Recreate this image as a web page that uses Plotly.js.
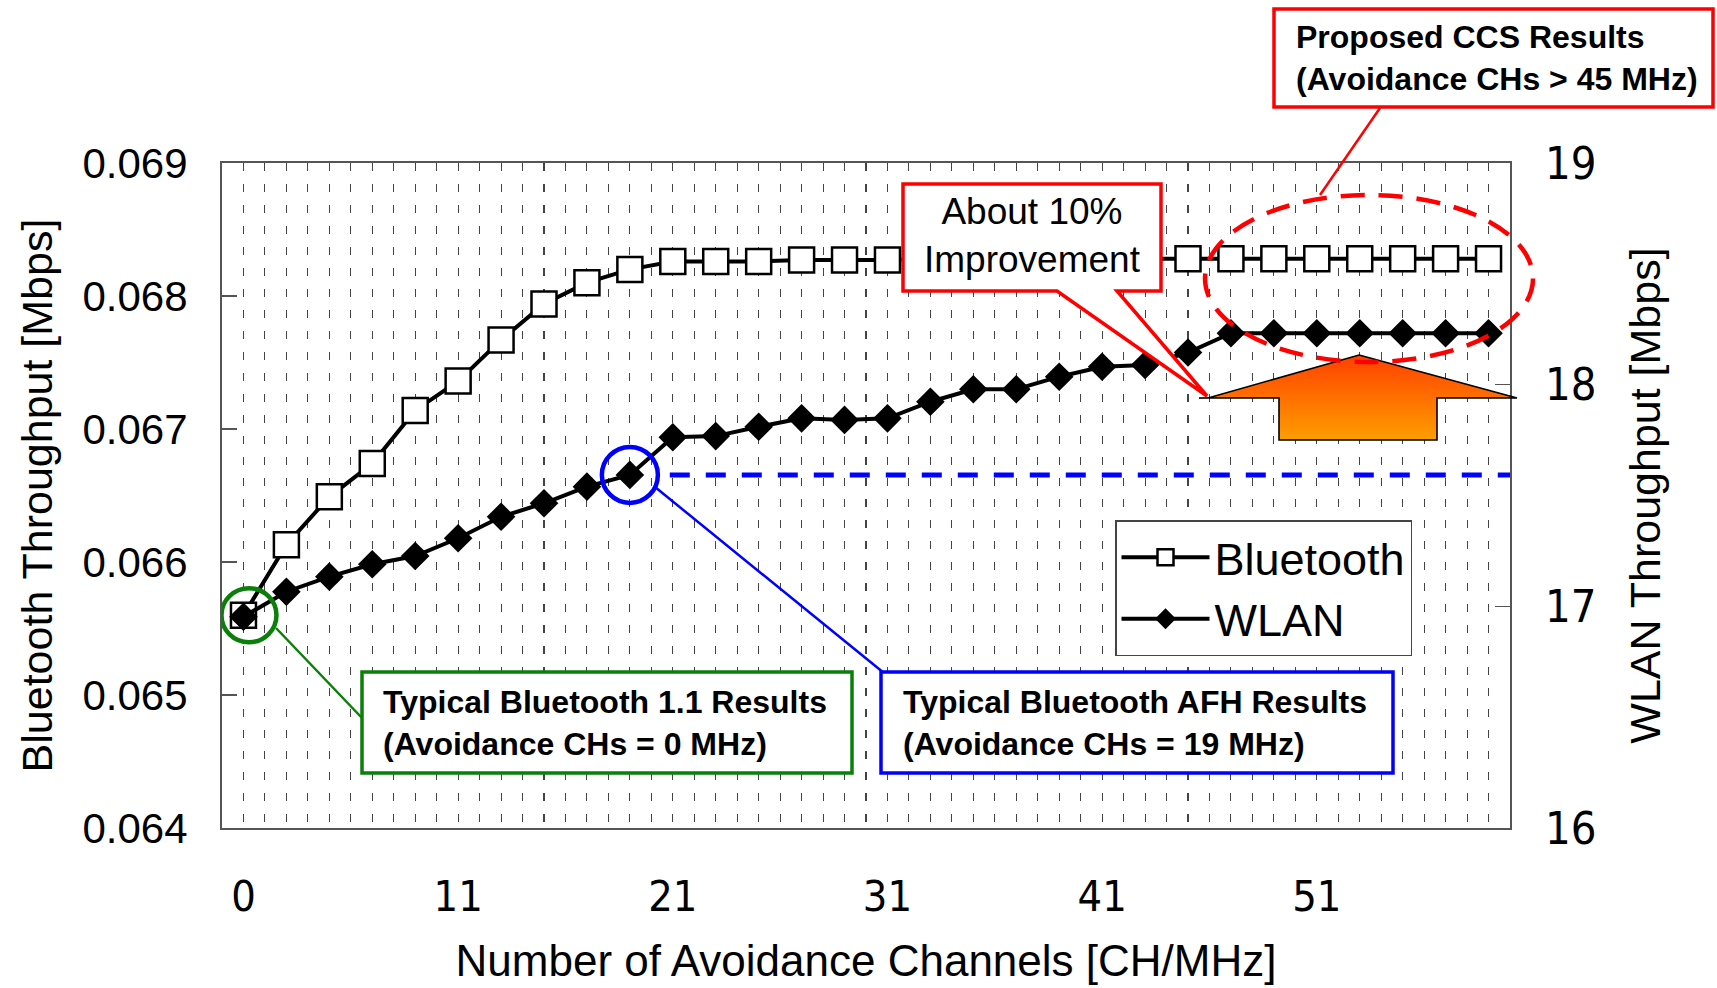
<!DOCTYPE html>
<html>
<head>
<meta charset="utf-8">
<script src="https://cdn.plot.ly/plotly-3.0.1.min.js"></script>
<style>html,body{margin:0;padding:0;background:#fff;}</style>
</head>
<body>
<div id="chart" style="width:1717px;height:988px;"></div>
<script>
// ---- data ----
const channels = [0, 3, 5, 7, 9, 11, 13, 15, 17, 19, 21, 23, 25, 27, 29, 31, 33, 35, 37, 39, 41, 43, 45, 47, 49, 51, 53, 55, 57, 59];
const xTickLabels = ['0', '11', '21', '31', '41', '51'];
const bluetooth = [0.06560, 0.06613, 0.06649, 0.06674, 0.06714, 0.06736, 0.06767, 0.06794, 0.06810, 0.06820,
                   0.06826, 0.06826, 0.06826, 0.06827, 0.06827, 0.06827, 0.06828, 0.06828, 0.06828, 0.06828,
                   0.06828, 0.06828, 0.06828, 0.06828, 0.06828, 0.06828, 0.06828, 0.06828, 0.06828, 0.06828];
const wlan = [16.953, 17.066, 17.134, 17.190, 17.227, 17.307, 17.404, 17.465, 17.540, 17.593,
              17.763, 17.768, 17.810, 17.848, 17.841, 17.848, 17.923, 17.979, 17.979, 18.036,
              18.081, 18.089, 18.145, 18.232, 18.232, 18.232, 18.232, 18.232, 18.232, 18.232];
const seriesNames = ['Bluetooth', 'WLAN'];
const bt11Channel = 0;   // Typical Bluetooth 1.1
const afhChannel = 19;   // Typical Bluetooth AFH

// positions of categories on the axis
const xIdx = channels.map((c, i) => i);
const tickIdx = xTickLabels.map(l => channels.indexOf(Number(l)));
const btIdx = channels.indexOf(bt11Channel);
const afhIdx = channels.indexOf(afhChannel);

// ---- layout helpers (plot area in pixels) ----
const W = 1717, H = 988;
const PL = 222, PR = 1510, PT = 163, PB = 828;
const px = x => (x - PL) / (PR - PL);
const py = y => (PB - y) / (PB - PT);

const SANS = 'Liberation Sans, Arial, sans-serif';
const NARROW = 'Liberation Sans Narrow, Arial Narrow, DejaVu Sans Condensed, sans-serif';
const gridStyle = {gridcolor: '#444', griddash: '8px,13px', gridwidth: 1.1};

const traces = [
  {
    x: xIdx, y: bluetooth, name: seriesNames[0], type: 'scatter', mode: 'lines+markers',
    line: {color: '#000', width: 4},
    marker: {symbol: 'square', size: 25, color: '#fff', line: {color: '#000', width: 2.5}},
    legendgroup: 'a', cliponaxis: false
  },
  {
    x: xIdx, y: wlan, name: seriesNames[1], type: 'scatter', mode: 'lines+markers', yaxis: 'y2',
    line: {color: '#000', width: 4},
    marker: {symbol: 'diamond', size: 22, color: '#000'},
    legendgroup: 'b', cliponaxis: false
  }
];

const shapes = [];
function pline(x0, y0, x1, y1, color, width, dash) {
  shapes.push({type: 'line', xref: 'paper', yref: 'paper', x0: px(x0), y0: py(y0), x1: px(x1), y1: py(y1),
    line: {color: color, width: width, dash: dash || 'solid'}, layer: 'above'});
}
function prect(x0, y0, x1, y1, color, width) {
  shapes.push({type: 'rect', xref: 'paper', yref: 'paper', x0: px(x0), y0: py(y1), x1: px(x1), y1: py(y0),
    fillcolor: '#fff', line: {color: color, width: width}, layer: 'above'});
}
function ppath(pts, fill, lineColor, lineWidth) {
  const d = pts.map((p, i) => (i ? 'L' : 'M') + px(p[0]).toFixed(5) + ',' + py(p[1]).toFixed(5)).join(' ') + ' Z';
  shapes.push({type: 'path', xref: 'paper', yref: 'paper', path: d, fillcolor: fill,
    line: {color: lineColor, width: lineWidth}, layer: 'above'});
}

// blue dashed reference line at AFH WLAN level
shapes.push({type: 'line', xref: 'x', yref: 'y2', x0: afhIdx + 0.93, x1: 29.5, y0: wlan[afhIdx], y1: wlan[afhIdx],
  line: {color: '#0000ff', width: 5, dash: '20px,16px'}, layer: 'above'});
// circles
shapes.push({type: 'circle', xref: 'x', yref: 'y2', xsizemode: 'pixel', ysizemode: 'pixel',
  xanchor: afhIdx, yanchor: wlan[afhIdx], x0: -28, x1: 28, y0: -28, y1: 28,
  line: {color: '#0000ff', width: 4.5}, layer: 'above'});
shapes.push({type: 'circle', xref: 'x', yref: 'y', xsizemode: 'pixel', ysizemode: 'pixel',
  xanchor: btIdx, yanchor: bluetooth[btIdx], x0: -22, x1: 33, y0: -27, y1: 27,
  line: {color: '#0a7f0a', width: 4.5}, layer: 'above'});

// green callout
pline(276, 628, 362, 718, '#0a7f0a', 2.5);
prect(362, 672, 852, 773, '#0a7f0a', 3.5);
// blue callout
pline(655, 487, 884, 673, '#0000ff', 2.5);
prect(881, 672, 1393, 773, '#0000ff', 3.5);
// "About 10%" callout
ppath([[903,184],[1161,184],[1161,291],[1117,291],[1207,396],[1057,291],[903,291]], '#fff', '#ff0000', 3.5);

// orange arrow with vertical gradient
const apX = 1359, apY = 355, baseY = 398, wingL = 1208, wingR = 1517, stemL = 1279, stemR = 1437, stemB = 440;
const c0 = [255, 64, 0], c1 = [255, 158, 0];
const nBands = 34;
for (let k = 0; k < nBands; k++) {
  const ya = apY + (stemB - apY) * k / nBands;
  const yb = apY + (stemB - apY) * (k + 1) / nBands + 0.6;
  const t = (k + 0.5) / nBands;
  const col = 'rgb(' + c0.map((v, j) => Math.round(v + (c1[j] - v) * t)).join(',') + ')';
  let pts;
  if (yb <= baseY + 0.6 && ya < baseY) {
    const fa = (ya - apY) / (baseY - apY), fb = Math.min(1, (yb - apY) / (baseY - apY));
    pts = [[apX - (apX - wingL) * fa, ya], [apX + (wingR - apX) * fa, ya],
           [apX + (wingR - apX) * fb, yb], [apX - (apX - wingL) * fb, yb]];
  } else if (ya < baseY) {
    const fa = (ya - apY) / (baseY - apY);
    pts = [[apX - (apX - wingL) * fa, ya], [apX + (wingR - apX) * fa, ya],
           [wingR, baseY], [stemR, baseY], [stemR, yb], [stemL, yb], [stemL, baseY], [wingL, baseY]];
  } else {
    pts = [[stemL, ya], [stemR, ya], [stemR, Math.min(yb, stemB)], [stemL, Math.min(yb, stemB)]];
  }
  ppath(pts, col, 'rgba(0,0,0,0)', 0);
}
ppath([[apX, apY], [wingR, baseY], [stemR, baseY], [stemR, stemB], [stemL, stemB], [stemL, baseY], [wingL, baseY]],
  'rgba(0,0,0,0)', '#000', 1.6);
pline(1199, baseY, wingL, baseY, '#000', 1.6);

// red dashed ellipse + pointer + top box
shapes.push({type: 'circle', xref: 'paper', yref: 'paper', x0: px(1205), x1: px(1533), y0: py(362), y1: py(195),
  line: {color: '#ff0000', width: 4.5, dash: '24px,14px'}, layer: 'above'});
pline(1380, 108, 1320, 195, '#ff0000', 2.5);
prect(1274, 9, 1713, 107, '#ff0000', 3.5);

const annotations = [
  {xref: 'paper', yref: 'paper', x: px(381), y: py(723), xanchor: 'left', yanchor: 'middle', align: 'left',
   showarrow: false, text: '<b>Typical Bluetooth 1.1 Results<br>(Avoidance CHs = 0 MHz)</b>',
   font: {family: SANS, size: 32, color: '#000'}},
  {xref: 'paper', yref: 'paper', x: px(901), y: py(723), xanchor: 'left', yanchor: 'middle', align: 'left',
   showarrow: false, text: '<b>Typical Bluetooth AFH Results<br>(Avoidance CHs = 19 MHz)</b>',
   font: {family: SANS, size: 32, color: '#000'}},
  {xref: 'paper', yref: 'paper', x: px(1294), y: py(58), xanchor: 'left', yanchor: 'middle', align: 'left',
   showarrow: false, text: '<b>Proposed CCS Results<br>(Avoidance CHs &gt; 45 MHz)</b>',
   font: {family: SANS, size: 32, color: '#000'}},
  {xref: 'paper', yref: 'paper', x: px(1032), y: py(236), xanchor: 'center', yanchor: 'middle', align: 'center',
   showarrow: false, text: 'About 10%<br>Improvement',
   font: {family: SANS, size: 37, color: '#000'}}
];

const layout = {
  width: W, height: H,
  margin: {l: PL, r: W - PR, t: PT, b: H - PB, pad: 0},
  paper_bgcolor: '#fff', plot_bgcolor: '#fff',
  showlegend: true,
  legend: {x: px(1115), y: py(520), xanchor: 'left', yanchor: 'top', bgcolor: '#fff',
    bordercolor: '#444', borderwidth: 1.5, font: {family: SANS, size: 45, color: '#000'},
    itemwidth: 88, tracegroupgap: 4, traceorder: 'normal'},
  xaxis: Object.assign({
    type: 'linear', range: [-0.5, 29.5], tickmode: 'array', tickvals: tickIdx, ticktext: xTickLabels,
    showgrid: true, zeroline: false, ticks: '', showline: true, mirror: true, linecolor: '#555', linewidth: 2,
    tickfont: {family: NARROW, size: 43, color: '#000'}, ticklabelstandoff: 29,
    minor: Object.assign({dtick: 0.5, tick0: 0, showgrid: true}, gridStyle),
    title: {text: 'Number of Avoidance Channels [CH/MHz]', font: {family: SANS, size: 44, color: '#000'}, standoff: 26}
  }, gridStyle),
  yaxis: {
    range: [0.064, 0.069], tick0: 0.064, dtick: 0.001, tickformat: '.3f', showgrid: false, zeroline: false,
    ticks: 'inside', ticklen: 15, tickwidth: 1.5, tickcolor: '#555', showline: true, mirror: false,
    linecolor: '#555', linewidth: 2, tickfont: {family: SANS, size: 42, color: '#000'}, ticklabelstandoff: 24,
    title: {text: 'Bluetooth Throughput [Mbps]', font: {family: SANS, size: 43, color: '#000'}, standoff: 16}
  },
  yaxis2: {
    overlaying: 'y', side: 'right', range: [16, 19], tick0: 16, dtick: 1, showgrid: false, zeroline: false,
    ticks: 'inside', ticklen: 15, tickwidth: 1.5, tickcolor: '#555', showline: true,
    linecolor: '#555', linewidth: 2, tickfont: {family: NARROW, size: 45, color: '#000'}, ticklabelstandoff: 24,
    title: {text: 'WLAN Throughput [Mbps]', font: {family: SANS, size: 43, color: '#000'}, standoff: 34}
  },
  shapes: shapes,
  annotations: annotations
};

Plotly.newPlot('chart', traces, layout, {displayModeBar: false, staticPlot: true});
</script>
</body>
</html>
